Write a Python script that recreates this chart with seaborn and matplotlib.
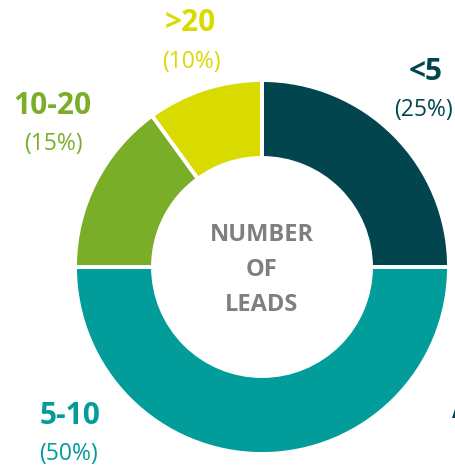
import numpy as np
import seaborn as sns
import matplotlib.pyplot as plt

sns.set_style('white')
plt.rcParams['font.family'] = ['Open Sans', 'DejaVu Sans']

# data
categories = ['<5', '5-10', '10-20', '>20']
shares = [25, 50, 15, 10]
colors = ['#02454F', '#029C9A', '#7AAE28', '#D9DB00']
center_title = 'NUMBER\nOF\nLEADS'

W, H = 456, 467
fig = plt.figure(figsize=(W / 100, H / 100), dpi=100)
ax = fig.add_axes([0, 0, 1, 1])

cx, cy = 262, H - 267
R, r = 187, 109
ax.pie(shares, colors=sns.color_palette(colors), startangle=90, counterclock=False,
       center=(cx, cy), radius=R, frame=True,
       wedgeprops=dict(width=R - r, edgecolor='white', linewidth=2.8))
ax.set_xlim(0, W)
ax.set_ylim(0, H)
ax.set_aspect('equal')
ax.axis('off')

# label positions (pixel coords from top)
lab_pos = {'<5': (426, 72, 424, 110),
           '5-10': (70, 416, 69, 454),
           '10-20': (52, 106, 53, 144),
           '>20': (190, 23, 191, 62)}
for cat, val, col in zip(categories, shares, colors):
    x1, y1, x2, y2 = lab_pos[cat]
    ax.text(x1, H - y1, cat, color=col, fontsize=21.5, fontweight='bold',
            ha='center', va='center')
    ax.text(x2, H - y2, '({}%)'.format(val), color=col, fontsize=16.5,
            ha='center', va='center')

# cut-off label at right edge
ax.text(452, H - 410, 'A', color=colors[0], fontsize=21.5, fontweight='bold',
        ha='left', va='center', clip_on=True)

ax.text(cx, H - 270, center_title, color='#7F7F7F', fontsize=17, fontweight='bold',
        ha='center', va='center', linespacing=1.62)

fig.savefig('out.png', dpi=100)
